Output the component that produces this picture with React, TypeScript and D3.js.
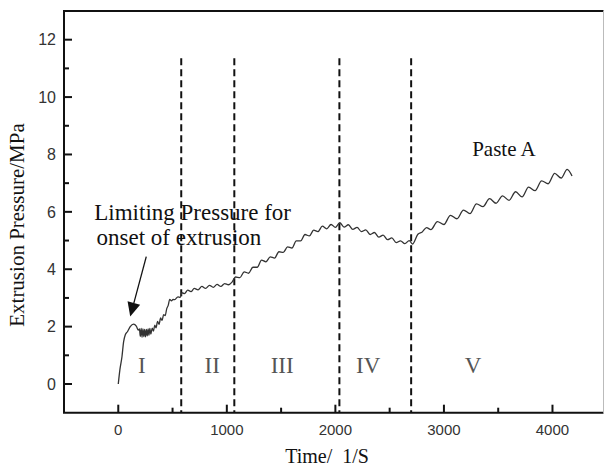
import React, { useEffect, useRef } from "react";
import * as d3 from "d3";

const curveTime = [
  0, 15, 34, 49, 64, 86, 110, 141, 166, 185,
  195, 203, 211, 219, 227, 235, 243, 251, 259, 267, 275, 283, 291, 300, 312, 324,
  336, 348, 362, 376, 390, 404, 418, 432, 446, 460, 474, 490, 505, 520, 550, 571,
  586, 610, 640, 670, 700, 735, 770, 805, 840, 875, 910, 945, 980, 1015, 1050,
  1080, 1120, 1160, 1200, 1240, 1280, 1320, 1360, 1400, 1440, 1480, 1520, 1560,
  1600, 1640, 1680, 1720, 1760, 1800, 1840, 1880, 1920, 1960, 2000, 2040,
  2080, 2120, 2160, 2200, 2240, 2280, 2320, 2360, 2400, 2440, 2480, 2520, 2560,
  2600, 2640, 2680, 2710,
  2760, 2800, 2840, 2880, 2940, 3000, 3060, 3120, 3180, 3240, 3300, 3360, 3420,
  3480, 3540, 3600, 3660, 3720, 3780, 3840, 3900, 3960, 4020, 4080, 4135, 4180,
];
const curvePressure = [
  0, 0.5, 0.95, 1.47, 1.71, 1.83, 2.0, 2.09, 2.02, 1.88,
  1.92, 1.66, 1.94, 1.63, 1.92, 1.65, 1.9, 1.64, 1.9, 1.68, 1.92, 1.7, 1.94, 1.74, 1.95, 1.84,
  2.05, 1.96, 2.18, 2.08, 2.3, 2.22, 2.42, 2.38, 2.62, 2.74, 2.95, 2.9, 2.95, 2.94, 3.04, 3.02,
  3.18, 3.15, 3.27, 3.22, 3.33, 3.28, 3.4, 3.33, 3.44, 3.37, 3.47, 3.4, 3.5, 3.46, 3.56,
  3.73, 3.71, 3.91, 3.86, 4.07, 4.07, 4.32, 4.26, 4.43, 4.39, 4.61, 4.59, 4.78,
  4.74, 4.99, 4.99, 5.21, 5.16, 5.36, 5.31, 5.5, 5.41, 5.56, 5.46, 5.62,
  5.47, 5.55, 5.39, 5.46, 5.31, 5.37, 5.21, 5.28, 5.12, 5.19, 5.03, 5.09, 4.93,
  4.99, 4.89, 5.0, 4.88,
  5.22, 5.3, 5.45, 5.38, 5.66, 5.56, 5.88, 5.76, 6.06, 5.94, 6.28, 6.18, 6.46,
  6.3, 6.56, 6.4, 6.7, 6.52, 6.86, 6.74, 7.08, 6.98, 7.34, 7.18, 7.48, 7.25,
];

// stage boundaries (dashed lines) and stage labels
const stageBounds = [580, 1069, 2037, 2698];
const stageNames = ["I", "II", "III", "IV", "V"];
const stageLabelTime = [218, 865, 1510, 2302, 3269];

const xMajor = [0, 1000, 2000, 3000, 4000];
const xMinor = [500, 1500, 2500, 3500];
const yMajor = [0, 2, 4, 6, 8, 10, 12];
const yMinor = [1, 3, 5, 7, 9, 11];

const W = 605;
const H = 470;

const App = () => {
  const svgRef = useRef(null);

  useEffect(() => {
    const svg = d3.select(svgRef.current);
    svg.selectAll("*").remove();

    const x = d3.scaleLinear().domain([-500, 4470]).range([64, 603.5]);
    const y = d3.scaleLinear().domain([-1, 13]).range([412.7, 11]);

    const serif = "'Liberation Serif', 'Times New Roman', serif";
    const sans = "'Liberation Sans', Arial, sans-serif";

    // frame: bold left/bottom/top, faint right edge
    const left = x(-500);
    const right = x(4470);
    const bottom = y(-1);
    const top = y(13);
    svg.append("path")
      .attr("d", `M${right},${top}H${left}V${bottom}H${right}`)
      .attr("fill", "none")
      .attr("stroke", "#111")
      .attr("stroke-width", 2);
    svg.append("line")
      .attr("x1", right).attr("x2", right)
      .attr("y1", top).attr("y2", bottom)
      .attr("stroke", "#bbb")
      .attr("stroke-width", 1);

    // x ticks (inward)
    svg.selectAll(".xmaj").data(xMajor).join("line")
      .attr("class", "xmaj")
      .attr("x1", d => x(d)).attr("x2", d => x(d))
      .attr("y1", bottom).attr("y2", bottom - 8)
      .attr("stroke", "#111").attr("stroke-width", 2);
    svg.selectAll(".xmin").data(xMinor).join("line")
      .attr("class", "xmin")
      .attr("x1", d => x(d)).attr("x2", d => x(d))
      .attr("y1", bottom).attr("y2", bottom - 5)
      .attr("stroke", "#111").attr("stroke-width", 2);
    svg.selectAll(".xlab").data(xMajor).join("text")
      .attr("class", "xlab")
      .attr("x", d => x(d))
      .attr("y", 435)
      .attr("text-anchor", "middle")
      .attr("font-family", sans)
      .attr("font-size", 15)
      .attr("fill", "#333")
      .text(d => d);

    // y ticks (inward)
    svg.selectAll(".ymaj").data(yMajor).join("line")
      .attr("class", "ymaj")
      .attr("x1", left).attr("x2", left + 8)
      .attr("y1", d => y(d)).attr("y2", d => y(d))
      .attr("stroke", "#111").attr("stroke-width", 2);
    svg.selectAll(".ymin").data(yMinor).join("line")
      .attr("class", "ymin")
      .attr("x1", left).attr("x2", left + 5)
      .attr("y1", d => y(d)).attr("y2", d => y(d))
      .attr("stroke", "#111").attr("stroke-width", 2);
    svg.selectAll(".ylab").data(yMajor).join("text")
      .attr("class", "ylab")
      .attr("x", 56)
      .attr("y", d => y(d))
      .attr("dy", "0.36em")
      .attr("text-anchor", "end")
      .attr("font-family", sans)
      .attr("font-size", 16)
      .attr("fill", "#333")
      .text(d => d);

    // dashed stage boundaries
    svg.selectAll(".bound").data(stageBounds).join("line")
      .attr("class", "bound")
      .attr("x1", d => x(d)).attr("x2", d => x(d))
      .attr("y1", y(11.35)).attr("y2", bottom)
      .attr("stroke", "#111")
      .attr("stroke-width", 2)
      .attr("stroke-dasharray", "7,4");

    // curve
    const pts = curveTime.map((t, i) => [t, curvePressure[i]]);
    const line = d3.line()
      .x(d => x(d[0]))
      .y(d => y(d[1]))
      .curve(d3.curveMonotoneX);
    svg.append("path")
      .datum(pts)
      .attr("d", line)
      .attr("fill", "none")
      .attr("stroke", "#333")
      .attr("stroke-width", 1.3);

    // stage labels
    svg.selectAll(".stage").data(stageNames).join("text")
      .attr("class", "stage")
      .attr("x", (d, i) => x(stageLabelTime[i]))
      .attr("y", y(0.4))
      .attr("text-anchor", "middle")
      .attr("font-family", serif)
      .attr("font-size", 23)
      .attr("fill", "#555")
      .text(d => d);

    // annotation
    const ann = svg.append("g")
      .attr("font-family", serif)
      .attr("font-size", 23)
      .attr("fill", "#111");
    ann.append("text").attr("x", x(-221)).attr("y", y(5.72)).text("Limiting Pressure for");
    ann.append("text").attr("x", x(-200)).attr("y", y(4.85)).text("onset of extrusion");

    const ax0 = x(258), ay0 = y(4.44), ax1 = x(110), ay1 = y(2.35);
    const ang = Math.atan2(ay1 - ay0, ax1 - ax0);
    const hl = 14, hw = 6.5;
    const bx = ax1 - hl * Math.cos(ang), by = ay1 - hl * Math.sin(ang);
    svg.append("line")
      .attr("x1", ax0).attr("y1", ay0).attr("x2", bx).attr("y2", by)
      .attr("stroke", "#111").attr("stroke-width", 1.3);
    svg.append("path")
      .attr("d", `M${ax1},${ay1}L${bx - hw * Math.sin(ang)},${by + hw * Math.cos(ang)}L${bx + hw * Math.sin(ang)},${by - hw * Math.cos(ang)}Z`)
      .attr("fill", "#111");

    svg.append("text")
      .attr("x", x(3260))
      .attr("y", y(7.95))
      .attr("font-family", serif)
      .attr("font-size", 21)
      .attr("fill", "#111")
      .text("Paste A");

    // axis titles
    svg.append("text")
      .attr("transform", `translate(24,${225}) rotate(-90)`)
      .attr("text-anchor", "middle")
      .attr("font-family", serif)
      .attr("font-size", 21)
      .attr("fill", "#111")
      .text("Extrusion Pressure/MPa");

    svg.append("text")
      .attr("x", 327)
      .attr("y", 463)
      .attr("text-anchor", "middle")
      .attr("font-family", serif)
      .attr("font-size", 20)
      .attr("fill", "#111")
      .attr("xml:space", "preserve")
      .style("white-space", "pre")
      .text("Time/  1/S");
  }, []);

  return (
    <svg
      ref={svgRef}
      width={W}
      height={H}
      style={{ position: "absolute", left: 0, top: 0, background: "#fff" }}
    ></svg>
  );
};

export default App;
